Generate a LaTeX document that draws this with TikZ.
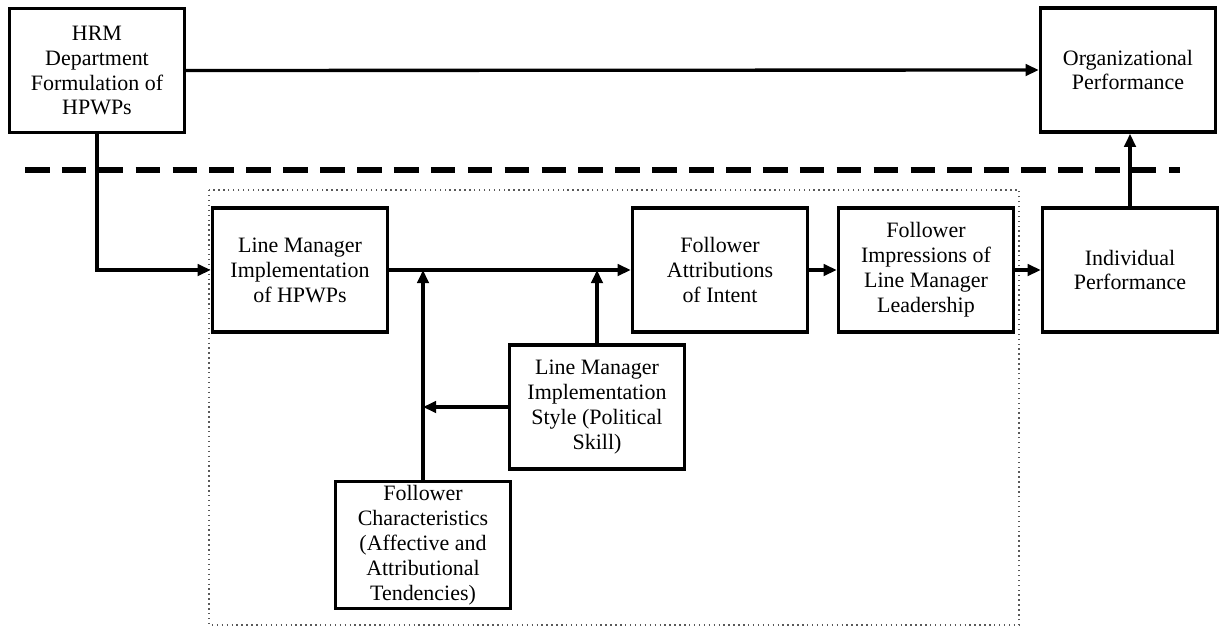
\documentclass[tikz,border=0pt]{standalone}
\usepackage{fontspec}
\setmainfont{Liberation Serif}
\usetikzlibrary{arrows.meta}

\begin{document}
\begin{tikzpicture}[x=0.02cm, y=-0.02cm,
  box/.style={draw, line width=2pt, align=center, inner sep=2pt,
    minimum width=3.5cm, minimum height=2.48cm,
    font=\fontsize{12.5}{14.2}\selectfont},
  link/.style={line width=1.9pt, -{Triangle[length=7.5pt, width=6.5pt]}}]
\useasboundingbox (0,0) rectangle (1223,629);
% Boundary between the HRM level and the line manager level
\draw[line width=3pt, dash pattern=on 14pt off 7pt] (25,170) -- (1180,170);
\draw[gray!70!black, dotted, line width=0.8pt] (209,190) rectangle (1019,625);
% Boxes
\node[box] (hrm) at (97,70.5) {HRM\\Department\\Formulation of\\HPWPs};
\node[box] (org) at (1128,70) {Organizational\\Performance};
\node[box] (lmimpl) at (300,270) {Line Manager\\Implementation\\of HPWPs};
\node[box] (attrib) at (720,270) {Follower\\Attributions\\of Intent};
\node[box] (impress) at (926,270) {Follower\\Impressions of\\Line Manager\\Leadership};
\node[box] (indiv) at (1130,270) {Individual\\Performance};
\node[box] (style) at (597,407) {Line Manager\\Implementation\\Style (Political\\Skill)};
\node[box] (follchar) at (423,545) {Follower\\Characteristics\\(Affective and\\Attributional\\Tendencies)};
% Connectors
\draw[link] (hrm.east) -- (org.west);
\draw[link] (hrm.south) |- (lmimpl.west);
\draw[link] (lmimpl.east) -- (attrib.west);
\draw[link] (follchar.north) -- (follchar.north |- lmimpl.east);
\draw[link] (style.north) -- (style.north |- attrib.west);
\draw[link] (style.west) -- (follchar.north |- style.west);
\draw[link] (attrib.east) -- (impress.west);
\draw[link] (impress.east) -- (indiv.west);
\draw[link] (indiv.north) -- (indiv.north |- org.south);
\end{tikzpicture}
\end{document}
